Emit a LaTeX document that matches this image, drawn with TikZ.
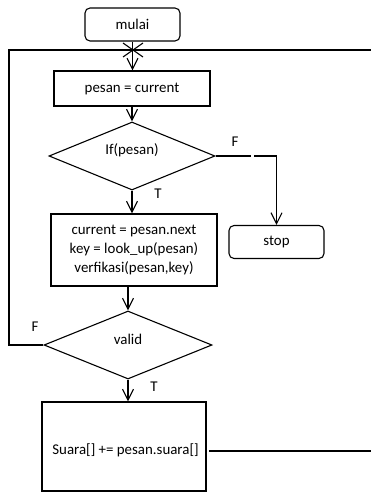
\documentclass[tikz,border=0pt]{standalone}
\usepackage{fontspec}
\setmainfont{Carlito}
\usetikzlibrary{shapes.geometric,arrows.meta}
\begin{document}
\begin{tikzpicture}[x=1pt,y=-1pt,line width=1.1pt,
  every node/.style={font=\fontsize{14.9}{19}\selectfont},
  term/.style={draw,rounded corners=5pt,minimum width=95pt,minimum height=33pt,inner sep=0pt},
  proc/.style={draw,inner sep=0pt,align=center},
  dec/.style={draw,diamond,inner sep=0pt},
  arr/.style={-{Straight Barb[length=11pt,width=11pt,line width=1.1pt]}},
  lbl/.style={inner sep=0pt}]
\useasboundingbox (0,0) rectangle (371,492);
% nodes
\node[term] (mulai) at (132.5,24.5) {mulai};
\node[proc,minimum width=156pt,minimum height=35pt] (pesan) at (132,88.5) {pesan = current};
\node[dec,minimum width=166pt,minimum height=68pt] (d1) at (132,156) {};
\node[lbl] at ([yshift=6pt]d1.center) {If(pesan)};
\node[term] (stop) at (276.5,242) {stop};
\node[proc,minimum width=166pt,minimum height=72pt] (box2) at (134,250) {current = pesan.next\\key = look\_up(pesan)\\verfikasi(pesan,key)};
\node[dec,minimum width=168pt,minimum height=68pt] (d2) at (128,345) {};
\node[lbl] at ([yshift=6pt]d2.center) {valid};
\node[proc,minimum width=164pt,minimum height=89pt] (box3) at (124,446.5) {};
\node[lbl] at (125.5,450) {Suara[] += pesan.suara[]};
% labels
\node[lbl] at (235,142) {F};
\node[lbl] at (158,194) {T};
\node[lbl] at (35,327) {F};
\node[lbl] at (154,387) {T};
% coordinates
\coordinate (j) at (133,50);
\coordinate (lt) at (9,50);
\coordinate (lb) at (9,345);
\coordinate (rt) at (371,50);
\coordinate (rb) at (371,451);
\coordinate (b3r) at (209,451);
\coordinate (g1) at (251,156);
\coordinate (g2) at (254,156);
% connectors
\draw[arr] (mulai.south) -- (mulai.south |- pesan.north);
\draw[arr] (pesan.south) -- (d1.north);
\draw[arr] (d1.south) -- (d1.south |- box2.north);
\draw (d1.east) -- (g1);
\draw[arr] (g2) -- (g2 -| stop.north) -- (stop.north);
\draw[arr] (d2.north |- box2.south) -- (d2.north);
\draw[arr] (d2.south) -- (d2.south |- box3.north);
\draw (d2.west) -- (lb) -- (lt) -- (j);
\draw (b3r) -- (rb);
\draw (rt) -- (j);
% crossing arrow tips at the junction
\draw (j) -- ++(-10,-7) (j) -- ++(-10,7);
\draw (j) -- ++(10,-7) (j) -- ++(10,7);
\end{tikzpicture}
\end{document}
